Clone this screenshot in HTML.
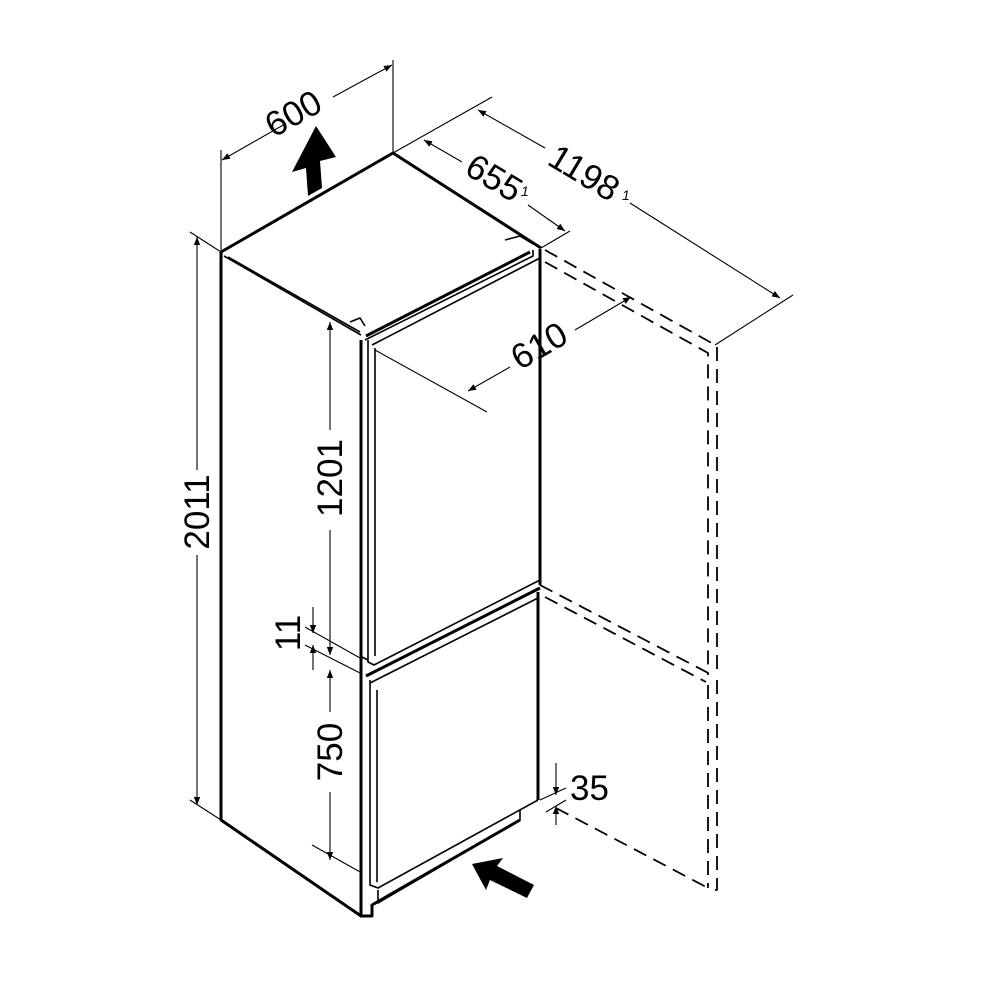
<!DOCTYPE html>
<html><head><meta charset="utf-8"><style>html,body{margin:0;padding:0;background:#fff}svg{display:block}</style></head>
<body>
<svg width="1000" height="1000" viewBox="0 0 1000 1000" xmlns="http://www.w3.org/2000/svg" font-family="Liberation Sans, sans-serif">
<defs>
<marker id="a" viewBox="0 0 10 10" refX="10" refY="5" markerWidth="12" markerHeight="8" orient="auto-start-reverse" markerUnits="userSpaceOnUse"><path d="M0,1 L10,5 L0,9 Z" fill="#000"/></marker>
</defs>
<g fill="none" stroke="#000" stroke-linejoin="round">
<g stroke-width="3">
<path d="M221,252 L393,153 L541,248"/>
<path d="M221,252 L221,820 L361,916 L361,340"/>
<path d="M540,249 L540,585"/>
<path d="M538,592 L538,800"/>
<path d="M366,336 L530,252"/>
<path d="M366,676 L540,588"/>
<path d="M361,916 L372,916 L372,905 L520,820"/>
</g>
<g stroke-width="1.6">
<path d="M224,256 L361,335"/>
<path d="M228,257 L360,332"/>
<path d="M365,340 L533,256 L533,250"/>
<path d="M372,345 L540,258"/>
<path d="M368,340 L368,662 L374,665 L540,580"/>
<path d="M375,348 L375,656"/>
<path d="M370,683 L538,598"/>
<path d="M370,680 L370,885 L378,888 L538,800"/>
<path d="M377,690 L377,882"/>
<path d="M362,657 L368,660"/>
<path d="M378,890 L378,903 L520,820 L520,810"/>
<path d="M505,240 L520,236 L533,244"/>
<path d="M350,322 L360,318 L365,326"/>
</g>
<g stroke-width="1.8" stroke-dasharray="14,8">
<path d="M545,250 L717,346 L717,675"/>
<path d="M545,262 L708,353 L708,675"/>
<path d="M540,585 L712,675"/>
<path d="M545,597 L706,682"/>
<path d="M717,680 L717,890 L708,890"/>
<path d="M708,685 L708,888"/>
<path d="M556,808 L708,888"/>
</g>
<g stroke-width="1.1">
<path d="M221,250 L221,150"/>
<path d="M393,153 L393,60"/>
<path d="M222,160 L285,124" marker-start="url(#a)"/>
<path d="M333,97 L392,65" marker-end="url(#a)"/>
<path d="M393,153 L492,97"/>
<path d="M715,345 L793,295"/>
<path d="M541,248 L570,231"/>
<path d="M478,110 L545,148" marker-start="url(#a)"/>
<path d="M630,203 L780,298" marker-end="url(#a)"/>
<path d="M424,140 L462,162" marker-start="url(#a)"/>
<path d="M528,205 L565,231" marker-end="url(#a)"/>
<path d="M375,350 L487,412"/>
<path d="M468,391 L510,367" marker-start="url(#a)"/>
<path d="M575,330 L631,297" marker-end="url(#a)"/>
<path d="M190,232 L221,252"/>
<path d="M190,800 L221,820"/>
<path d="M197,237 L197,470" marker-start="url(#a)"/>
<path d="M197,555 L197,805" marker-end="url(#a)"/>
<path d="M330,322 L330,430" marker-start="url(#a)"/>
<path d="M330,530 L330,655" marker-end="url(#a)"/>
<path d="M330,670 L330,712" marker-start="url(#a)"/>
<path d="M330,792 L330,860" marker-end="url(#a)"/>
<path d="M305,627 L360,658"/>
<path d="M305,645 L360,673"/>
<path d="M313,607 L313,633" marker-end="url(#a)"/>
<path d="M313,670 L313,645" marker-end="url(#a)"/>
<path d="M312,845 L362,873"/>
<path d="M556,763 L556,795" marker-end="url(#a)"/>
<path d="M556,825 L556,806" marker-end="url(#a)"/>
<path d="M540,800 L566,788"/>
<path d="M546,812 L566,800"/>
</g>
</g>
<path d="M308,196 L322,188 L320,161 L336,157 L316,126 L292,172 L306,168 Z" fill="#000"/>
<path d="M472,864 L486,890 L490,880 L527,898 L534,885 L497,866 L503,858 Z" fill="#000"/>
<g font-size="35" fill="#000">
<text transform="translate(299,124) rotate(-29)" text-anchor="middle">600</text>
<text transform="translate(488,188) rotate(31)" text-anchor="middle">655</text>
<text transform="translate(578,183) rotate(31)" text-anchor="middle">1198</text>
<text transform="translate(545,356) rotate(-30)" text-anchor="middle">610</text>
<text transform="translate(209,512) rotate(-90)" text-anchor="middle">2011</text>
<text transform="translate(342,478) rotate(-90)" text-anchor="middle">1201</text>
<text transform="translate(300,633) rotate(-90)" text-anchor="middle">11</text>
<text transform="translate(342,752) rotate(-90)" text-anchor="middle">750</text>
<text x="570" y="800">35</text>
</g>
<g font-size="14" font-style="italic" fill="#000">
<text x="521" y="196">1</text>
<text x="622" y="200">1</text>
</g>
</svg>
</body></html>
